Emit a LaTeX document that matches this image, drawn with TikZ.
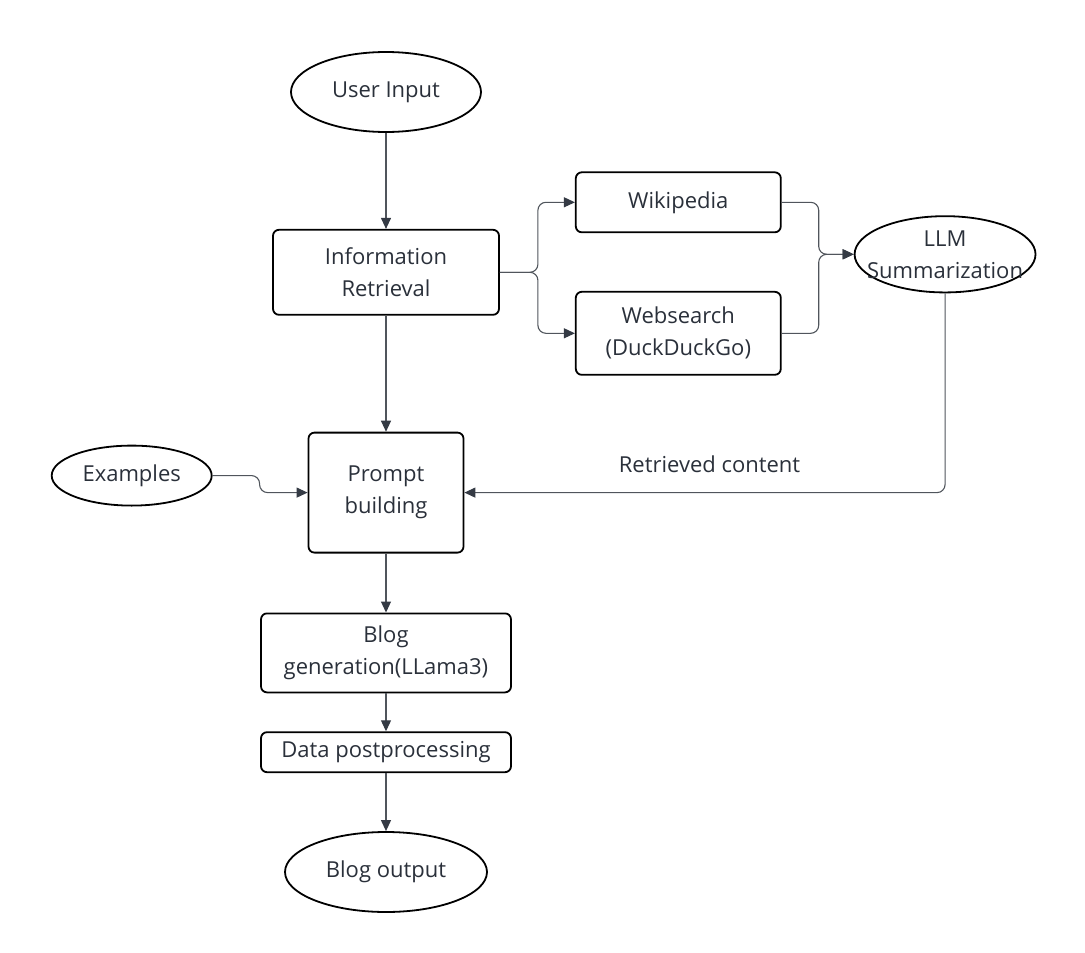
\documentclass[tikz,border=0pt]{standalone}
\usepackage{fontspec}
\setmainfont{Open Sans}
\usetikzlibrary{arrows.meta,positioning,shapes}
\definecolor{textgrau}{HTML}{2A303A}
\definecolor{liniengrau}{HTML}{50555C}
\definecolor{pfeilgrau}{HTML}{343A44}

\begin{document}
\begin{tikzpicture}[x=1pt,y=1pt,
node distance=40pt,
auto,
pile/.style={
  line width=1.1pt,
  draw=liniengrau,
  -{Triangle[length=11pt,width=10pt,color=pfeilgrau]},
  rounded corners=8pt
},
knoten/.style={
  rectangle,
  align=center,
  line width=1.8pt,
  draw=black,
  rounded corners=6pt,
  inner sep=0pt,
  text=textgrau,
  font=\fontsize{22}{32}\selectfont
},
oval/.style={
  ellipse,
  align=center,
  line width=1.8pt,
  draw=black,
  inner sep=0pt,
  text=textgrau,
  font=\fontsize{22}{32}\selectfont
}]
\useasboundingbox (0,0) rectangle (1085,-953);

\node[oval, minimum width=190pt, minimum height=80pt] (UI) at (386,-92) {User Input};
\node[knoten, minimum width=226pt, minimum height=85pt] (IR) [below=96pt of UI] {Information\\Retrieval};

\draw[pile] (UI) -- (IR);
\node[knoten, minimum width=205pt, minimum height=60pt] (WP) [right=75pt of IR, yshift=70pt] {Wikipedia};
\node[knoten, minimum width=205pt, minimum height=83pt] (WS) [right=75pt of IR, yshift=-61pt] {Websearch\\(DuckDuckGo)};

\draw[pile] (IR.east) -- ++(38,0) |- (WP.west);
\draw[pile] (IR.east) -- ++(38,0) |- (WS.west);

\node[oval, inner xsep=-14pt, inner ysep=3pt] (LLM) [right=72pt of WP, yshift=-52pt] {LLM\\Summarization};

\draw[pile] (WP.east) -- ++(37,0) |- (LLM.west);
\draw[pile] (WS.east) -- ++(37,0) |- (LLM.west);

\node[knoten, minimum width=155pt, minimum height=120pt] (PB) [below=116pt of IR] {Prompt\\building};
\node[oval, minimum width=160pt, minimum height=60pt] (EX) [left=95pt of PB, yshift=17pt] {Examples};

\draw[pile] (IR) -- (PB);
\draw[pile] (EX.east) -- ++(47,0) |- (PB.west);
\draw[pile] (LLM.south) |- (PB.east) node[pos=0.745, above=19pt, inner sep=0pt, text=textgrau, font=\fontsize{22}{26}\selectfont] (RC) {Retrieved content};

\node[knoten, minimum width=250pt, minimum height=79pt] (BG) [below=59pt of PB] {Blog\\generation(LLama3)};
\node[knoten, minimum width=250pt, minimum height=40pt] (DP) [below=38pt of BG] {Data postprocessing};
\node[oval, minimum width=202pt, minimum height=80pt] (BO) [below=58pt of DP] {Blog output};

\draw[pile] (PB) -- (BG);
\draw[pile] (BG) -- (DP);
\draw[pile] (DP) -- (BO);

\end{tikzpicture}
\end{document}
